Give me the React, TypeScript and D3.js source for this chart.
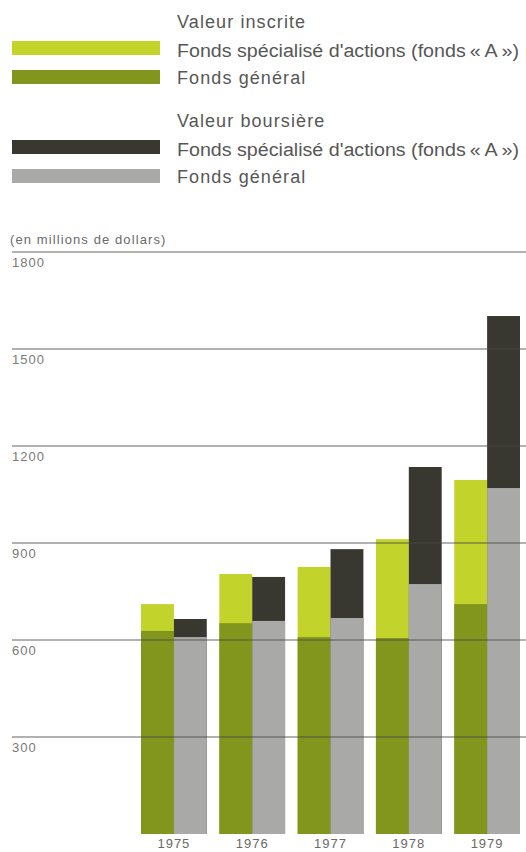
import React from "react";
import * as d3 from "d3";

const years = ["1975", "1976", "1977", "1978", "1979"];
// Valeur inscrite
const inscriteGeneral = [628, 652, 609, 606, 711];
const inscriteTotal = [711, 804, 826, 912, 1095];
// Valeur boursière
const boursiereGeneral = [609, 659, 668, 773, 1070];
const boursiereTotal = [665, 795, 881, 1135, 1602];
const yTicks = [300, 600, 900, 1200, 1500, 1800];

const C_LIGHT = "#c2d42c";
const C_GREEN = "#82961e";
const C_DARK = "#383831";
const C_GREY = "#a9a9a7";
const C_TEXT = "#575755";

const aLabel = "Fonds spécialisé d'actions (fonds\u2009«\u2009A\u2009»)";
const legendItems = [
  { head: "Valeur inscrite", rows: [{ label: aLabel, color: C_LIGHT, long: true }, { label: "Fonds général", color: C_GREEN, long: false }] },
  { head: "Valeur boursière", rows: [{ label: aLabel, color: C_DARK, long: true }, { label: "Fonds général", color: C_GREY, long: false }] },
];

export default function App() {
  const W = 526, H = 852;
  const y = d3.scaleLinear().domain([0, 1800]).range([834, 252]);
  const x = d3.scaleBand<string>().domain(years).range([141, 520]).paddingInner(0.16).paddingOuter(0);
  const bw = x.bandwidth() / 2;
  const font = "'Liberation Sans', Arial, sans-serif";

  return (
    <svg width={W} height={H} style={{ position: "absolute", left: 0, top: 0 }} fontFamily={font}>
      <rect width={W} height={H} fill="#fff" />
      {legendItems.map((g, gi) => {
        const base = gi * 99;
        return (
          <g key={gi}>
            <text x={177} y={base + 28} fontSize={18} fill={C_TEXT} letterSpacing={1.1}>{g.head}</text>
            {g.rows.map((r, ri) => (
              <g key={ri}>
                <rect x={12} y={base + 41 + ri * 29} width={148} height={14} fill={r.color} />
                {r.long ? (
                  <text x={177} y={base + 57 + ri * 27} fontSize={18} fill={C_TEXT} textLength={342} lengthAdjust="spacingAndGlyphs">{r.label}</text>
                ) : (
                  <text x={177} y={base + 57 + ri * 27} fontSize={18} fill={C_TEXT} letterSpacing={1.1}>{r.label}</text>
                )}
              </g>
            ))}
          </g>
        );
      })}
      <text x={10} y={244} fontSize={13} fill="#6a6a68" letterSpacing={1.1}>(en millions de dollars)</text>

      {years.map((yr, i) => {
        const x0 = x(yr)!;
        return (
          <g key={yr}>
            <rect x={x0} y={y(inscriteTotal[i])} width={bw} height={y(0) - y(inscriteTotal[i])} fill={C_LIGHT} />
            <rect x={x0} y={y(inscriteGeneral[i])} width={bw} height={y(0) - y(inscriteGeneral[i])} fill={C_GREEN} />
            <rect x={x0 + bw} y={y(boursiereTotal[i])} width={bw} height={y(0) - y(boursiereTotal[i])} fill={C_DARK} />
            <rect x={x0 + bw} y={y(boursiereGeneral[i])} width={bw} height={y(0) - y(boursiereGeneral[i])} fill={C_GREY} />
            <text x={x0 + bw} y={848} fontSize={13} fill="#6a6a68" textAnchor="middle" letterSpacing={1}>{yr}</text>
          </g>
        );
      })}

      {yTicks.map((t) => (
        <g key={t}>
          <line x1={12} x2={W} y1={y(t)} y2={y(t)} stroke="#4a4a48" strokeWidth={1.2} strokeOpacity={0.85} />
          <text x={12} y={y(t) + 15} fontSize={13} fill="#7a7a78" letterSpacing={1}>{t}</text>
        </g>
      ))}
    </svg>
  );
}
